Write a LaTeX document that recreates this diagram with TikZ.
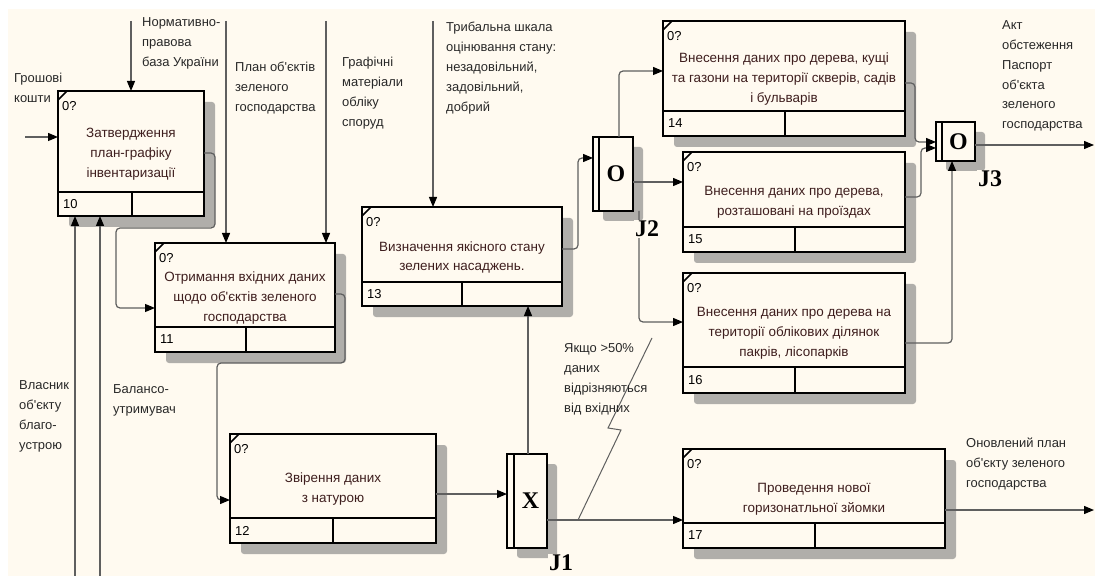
\documentclass[tikz,border=0pt]{standalone}
\usepackage{fontspec}
\setmainfont{Liberation Sans}[Ligatures=TeXOff]
\newfontfamily\jfont{Liberation Serif}
\usetikzlibrary{arrows.meta}
\definecolor{paper}{RGB}{255,250,240}
\definecolor{shade}{RGB}{176,174,170}
\definecolor{wire}{RGB}{95,95,95}
\definecolor{ink}{RGB}{62,30,30}
\definecolor{note}{RGB}{40,40,40}
\pgfdeclarelayer{back}
\pgfsetlayers{back,main}

\tikzset{
  box/.style={draw=black,line width=2bp,fill=paper,inner sep=0pt,outer sep=0pt,anchor=north west},
  boxshadow/.style={fill=shade,rounded corners=3bp},
  conn/.style={draw=wire,line width=1.2bp,rounded corners=4bp,-{Triangle[length=10bp,width=8bp,color=black]}},
  flow/.style={draw=wire,line width=1bp},
  title/.style={text=ink,align=center,font=\fontsize{13.5}{20}\selectfont,inner sep=0pt},
  tag/.style={text=black,font=\fontsize{13}{20}\selectfont,inner sep=0pt,anchor=west},
  note/.style={text=note,align=left,font=\fontsize{13}{20}\selectfont,inner sep=0pt,anchor=west},
  jlab/.style={font=\jfont\bfseries\fontsize{24}{24}\selectfont,inner sep=0pt},
}

% activity box: name, x1, y1, x2, y2, divider y, split x, number, text
\newcommand\actbox[9]{%
  \begin{pgfonlayer}{back}
    \fill[boxshadow] (#2+11,#3+11) rectangle (#4+11,#5+11);
  \end{pgfonlayer}
  \node[box,minimum width={(#4-#2)*1bp},minimum height={(#5-#3)*1bp}] (#1) at (#2,#3) {};
  \draw[line width=2bp] (#1.west |- 0,#6) -- (#1.east |- 0,#6);
  \draw[line width=2bp] (#7,#6) -- (#1.south -| #7,0);
  \draw[line width=1.5bp] (#2,#3+9) -- (#2+9,#3);
  \node[tag] (#1q) at (#2+4,#3+15) {0?};
  \node[tag] (#1n) at (#2+5,{(#6+#5)/2}) {#8};
  \node[title] (#1t) at ({(#2+#4)/2},{(#3+#6)/2+13}) {#9};
}

% junction: name, x1, y1, x2, y2, inner x, letter
\newcommand\junction[7]{%
  \begin{pgfonlayer}{back}
    \fill[boxshadow] (#2+10,#3+10) rectangle (#4+10,#5+10);
  \end{pgfonlayer}
  \node[box,minimum width={(#4-#2)*1bp},minimum height={(#5-#3)*1bp}] (#1) at (#2,#3) {};
  \draw[line width=1.5bp] (#1.north -| #6,0) -- (#1.south -| #6,0);
  \node[jlab] (#1s) at ({(#6+#4)/2},{(#3+#5)/2}) {#7};
}

\begin{document}
\begin{tikzpicture}[x=1bp,y=-1bp]
\useasboundingbox (0,0) rectangle (1095,576);
\begin{pgfonlayer}{back}
  \fill[paper] (8,9) rectangle (1095,576);
\end{pgfonlayer}

% boxes
\actbox{b10}{58}{91}{204}{216}{192}{132}{10}{Затвердження\\план-графіку\\інвентаризації}
\actbox{b11}{155}{243}{335}{352}{327}{246}{11}{Отримання вхідних даних\\щодо об'єктів зеленого\\господарства}
\actbox{b12}{230}{434}{436}{543}{518}{333}{12}{Звірення даних\\з натурою}
\actbox{b13}{362}{207}{562}{306}{282}{462}{13}{Визначення якісного стану\\зелених насаджень.}
\actbox{b14}{663}{21}{905}{136}{111}{785}{14}{Внесення даних про дерева, кущі\\та газони на території скверів, садів\\і бульварів}
\actbox{b15}{683}{152}{905}{252}{227}{795}{15}{Внесення даних про дерева,\\розташовані на проїздах}
\actbox{b16}{683}{273}{905}{393}{367}{795}{16}{Внесення даних про дерева на\\території облікових ділянок\\пакрів, лісопарків}
\actbox{b17}{683}{449}{945}{548}{523}{815}{17}{Проведення нової\\горизонатльної зйомки}

% junctions
\junction{j1}{507}{454}{547}{548}{514}{X}
\junction{j2}{593}{137}{633}{211}{599}{O}
\junction{j3}{936}{122}{975}{161}{942}{O}

% free ends
\coordinate (inCash) at (25,137);
\coordinate (ctlNorm) at (131,21);
\coordinate (ctlPlan) at (226,21);
\coordinate (ctlGraph) at (326,21);
\coordinate (ctlScale) at (433,21);
\coordinate (mOwner) at (75,576);
\coordinate (mBal) at (100,576);
\coordinate (outAct) at (1094,145);
\coordinate (outPlan) at (1094,510);

% inputs, controls, mechanisms
\draw[conn] (inCash) -- (b10.west |- inCash);
\draw[conn] (ctlNorm) -- (ctlNorm |- b10.north);
\draw[conn] (ctlPlan) -- (ctlPlan |- b11.north);
\draw[conn] (ctlGraph) -- (ctlGraph |- b11.north);
\draw[conn] (ctlScale) -- (ctlScale |- b13.north);
\draw[conn] (mOwner) -- (mOwner |- b10.south);
\draw[conn] (mBal) -- (mBal |- b10.south);

% flows between boxes
\draw[conn] (b10.east |- 0,153) -- (215,153) -- (215,228) -- (116,228) -- (116,308) -- (b11.west |- 0,308);
\draw[conn] (b11.east |- 0,294) -- (345,294) -- (345,363) -- (217,363) -- (217,500) -- (b12.west |- 0,500);
\draw[conn] (b12.east |- 0,494) -- (j1.west |- 0,494);
\draw[conn] (j1.north -| 528,0) -- (b13.south -| 528,0);
\draw[conn] (j1.east |- 0,520) -- (b17.west |- 0,520);
\draw[conn] (b13.east |- 0,249) -- (578,249) -- (578,158) -- (j2.west |- 0,158);
\draw[conn] (j2.north -| 619,0) -- (619,71) -- (b14.west |- 0,71);
\draw[conn] (j2.east |- 0,182) -- (b15.west |- 0,182);
\draw[conn] (j2.south -| 639,0) -- (639,322) -- (b16.west |- 0,322);
\draw[conn] (b14.east |- 0,83) -- (915,83) -- (915,142) -- (j3.west |- 0,142);
\draw[conn] (b15.east |- 0,197) -- (921,197) -- (921,148) -- (j3.west |- 0,148);
\draw[conn] (b16.east |- 0,343) -- (952,343) -- (j3.south -| 952,0);
\draw[conn] (j3.east |- 0,145) -- (outAct);
\draw[conn] (b17.east |- 0,510) -- (outPlan);

% squiggle to the condition
\coordinate (sqA) at (578,520);
\draw[flow] (sqA) -- (621,430) -- (608,428) -- (652,338);

% junction names
\node[jlab,fill=paper,inner sep=1bp] (j1l) at (561,563) {J1};
\node[jlab,fill=paper,inner sep=1bp] (j2l) at (647,229) {J2};
\node[jlab,fill=paper,inner sep=1bp] (j3l) at (990,179) {J3};

% arrow labels
\node[note] (lCash) at (14,88) {Грошові\\кошти};
\node[note] (lNorm) at (142,43) {Нормативно-\\правова\\база України};
\node[note] (lPlan) at (235,88) {План об'єктів\\зеленого\\господарства};
\node[note] (lGraph) at (342,93) {Графічні\\матеріали\\обліку\\споруд};
\node[note] (lScale) at (446,68) {Трибальна шкала\\оцінювання стану:\\незадовільний,\\задовільний,\\добрий};
\node[note] (lOwner) at (19,416) {Власник\\об'єкту\\благо-\\устрою};
\node[note] (lBal) at (113,400) {Балансо-\\утримувач};
\node[note] (lCond) at (564,379) {Якщо >50\%\\даних\\відрізняються\\від вхідних};
\node[note] (lAct) at (1002,76) {Акт\\обстеження\\Паспорт\\об'єкта\\зеленого\\господарства};
\node[note] (lNew) at (966,464) {Оновлений план\\об'єкту зеленого\\господарства};
\end{tikzpicture}
\end{document}
